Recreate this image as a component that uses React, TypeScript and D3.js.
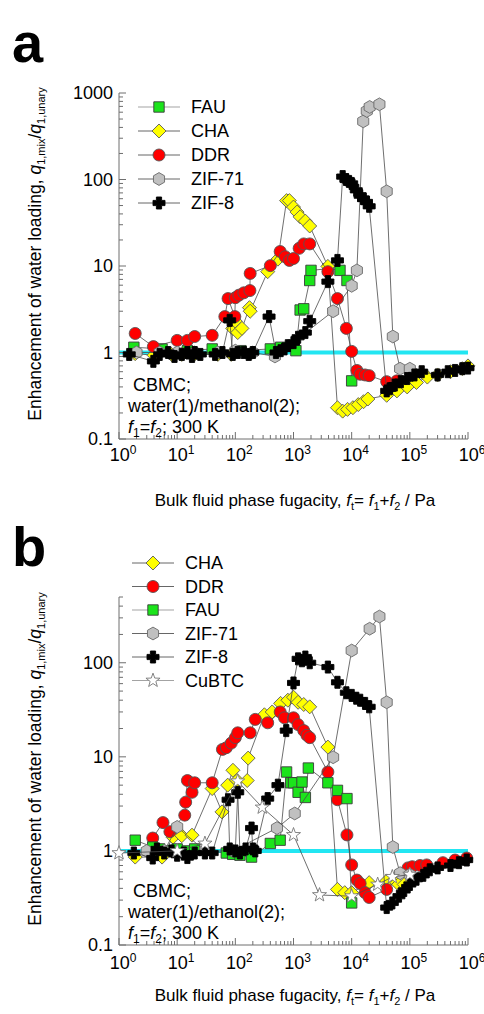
import * as d3 from 'd3'

type Pt = [number, number]

// ---- panel a: water(1)/methanol(2), CBMC, f1=f2, 300 K ----
const aFAU: Pt[] = [[1.8, 1.15], [5.5, 1.1], [15, 1.05], [40, 1.1], [125, 1.05], [400, 1.1], [600, 1.15], [1100, 1.05], [1300, 3.1], [1500, 3.2], [1900, 6.8], [2000, 8.9], [3900, 9.3], [6300, 8.9], [8300, 6.8], [10000, 0.47]]
const aCHA: Pt[] = [[1.9, 0.97], [4, 0.93], [8, 0.95], [12, 0.95], [20, 0.96], [50, 0.95], [85, 0.95], [90, 1.9], [100, 2.3], [110, 1.7], [130, 1.9], [175, 3.3], [180, 3.0], [360, 8.6], [540, 12], [760, 57], [850, 57], [1000, 48], [1150, 42], [1300, 37], [1600, 33], [1900, 29], [3900, 9.9], [5700, 0.23], [7000, 0.21], [8500, 0.22], [10500, 0.23], [13000, 0.25], [16000, 0.27], [19000, 0.29], [40000, 0.32], [60000, 0.36], [90000, 0.4], [130000, 0.45], [200000, 0.52], [300000, 0.55], [500000, 0.6], [800000, 0.65], [1000000, 0.7]]
const aDDR: Pt[] = [[1.9, 1.66], [3.9, 1.17], [10, 1.38], [15, 1.38], [20, 1.53], [40, 1.58], [66, 2.6], [75, 4.2], [98, 2.6], [100, 4.3], [115, 4.6], [140, 4.9], [178, 5.2], [180, 8.2], [400, 10.1], [590, 14.7], [720, 12.8], [850, 11.6], [1000, 12.2], [1250, 16], [1500, 18], [1900, 18], [3900, 8.6], [5700, 4.2], [8100, 1.9], [10000, 1.03], [12300, 0.62], [14000, 0.56], [17000, 0.55], [20000, 0.54], [40000, 0.46], [60000, 0.47]]
const aZIF71: Pt[] = [[2, 1.0], [5, 1.0], [10, 1.0], [20, 1.0], [50, 1.0], [100, 1.05], [200, 1.0], [480, 0.9], [4800, 3.0], [10000, 5.9], [12300, 8.9], [15800, 470], [18200, 620], [20400, 690], [30000, 740], [40000, 73], [51000, 1.53], [68000, 0.65], [100000, 0.65]]
const aZIF8: Pt[] = [[1.5, 0.95], [3.9, 0.79], [5, 0.95], [7, 1.0], [9, 0.9], [12, 0.95], [15, 1.0], [18, 0.9], [20, 1.0], [25, 0.95], [45, 0.95], [60, 1.0], [80, 2.35], [90, 0.95], [110, 1.0], [140, 1.0], [170, 0.95], [200, 1.0], [380, 2.6], [500, 1.0], [600, 1.05], [700, 1.1], [800, 1.2], [1000, 1.3], [1200, 1.5], [1600, 1.7], [1900, 2.3], [3900, 6.6], [5700, 11.6], [7000, 108], [8000, 100], [9000, 95], [10000, 90], [12000, 75], [14000, 65], [16000, 60], [18000, 55], [20000, 49], [40000, 0.36], [45000, 0.38], [55000, 0.42], [70000, 0.46], [90000, 0.5], [120000, 0.55], [160000, 0.6], [300000, 0.55], [450000, 0.6], [600000, 0.62], [800000, 0.65], [1000000, 0.66]]

// ---- panel b: water(1)/ethanol(2) ----
const bCHA: Pt[] = [[1.9, 0.86], [5.5, 0.86], [8.5, 1.4], [12, 1.45], [18, 1.47], [40, 4.6], [59, 2.6], [74, 5.0], [91, 7.2], [107, 5.6], [160, 5.6], [166, 9.7], [316, 28], [430, 30], [600, 37], [800, 40], [1000, 43], [1200, 38], [1500, 36], [1900, 34], [3900, 12.7], [5700, 0.39], [7600, 0.36], [10000, 0.36], [20000, 0.46], [40000, 0.48], [60000, 0.46], [80000, 0.44]]
const bDDR: Pt[] = [[3.8, 1.37], [5.7, 2.0], [7.5, 1.6], [13.5, 2.4], [14, 3.3], [15, 5.6], [18, 4.2], [20, 5.3], [40, 5.3], [60, 12], [70, 12.5], [85, 14], [100, 16], [110, 18], [180, 18], [220, 25], [360, 23], [590, 30], [700, 26], [1000, 26], [1200, 22], [1500, 19], [1700, 17], [1900, 16], [3900, 6.9], [5700, 3.5], [8300, 1.48], [10000, 0.71], [12300, 0.49], [14000, 0.45], [17000, 0.36], [20000, 0.32], [40000, 0.39], [93000, 0.66], [110000, 0.68], [150000, 0.7], [195000, 0.71], [370000, 0.75], [600000, 0.8], [950000, 0.84]]
const bFAU: Pt[] = [[1.9, 1.3], [3.8, 1.1], [5, 1.05], [8, 1.0], [10, 1.05], [15, 1.0], [20, 1.05], [70, 0.95], [90, 0.92], [120, 0.9], [190, 0.86], [400, 1.2], [590, 1.3], [760, 6.9], [900, 5.3], [1000, 5.3], [1200, 4.2], [1400, 5.4], [1600, 3.7], [1800, 7.6], [3900, 5.3], [5700, 4.4], [8300, 3.6], [10000, 0.28]]
const bZIF71: Pt[] = [[3, 1.0], [6, 1.0], [10, 1.8], [30, 1.0], [90, 1.0], [520, 1.75], [1050, 2.5], [4800, 9.9], [10000, 135], [20400, 230], [30000, 310], [40000, 38], [51000, 1.1], [68000, 0.58], [100000, 0.56]]
const bZIF8: Pt[] = [[1.8, 0.95], [3.8, 0.84], [4.5, 1.05], [6, 0.95], [8, 1.0], [10, 0.9], [13, 0.95], [15, 0.85], [20, 0.95], [30, 0.95], [40, 0.95], [75, 3.5], [80, 1.05], [100, 1.0], [110, 4.2], [120, 0.95], [150, 1.05], [190, 1.75], [200, 1.05], [220, 1.0], [360, 3.6], [540, 5.0], [750, 19], [1000, 61], [1200, 110], [1400, 105], [1600, 115], [1900, 100], [3900, 90], [5700, 62], [8100, 48], [10000, 45], [12000, 42], [14000, 40], [17000, 37], [20000, 34], [40000, 0.25], [50000, 0.28], [65000, 0.33], [80000, 0.38], [100000, 0.44], [130000, 0.5], [170000, 0.55], [220000, 0.63], [300000, 0.66], [500000, 0.7], [700000, 0.75], [950000, 0.8]]
const bCuBTC: Pt[] = [[1, 0.95], [10, 1.0], [30, 1.2], [110, 5.5], [290, 2.9], [1000, 1.48], [2800, 0.34], [10000, 0.33], [28000, 0.44], [50000, 0.53], [100000, 0.56]]

const xTickExps = [0, 1, 2, 3, 4, 5, 6]
const aYTicks = [0.1, 1, 10, 100, 1000]
const bYTicks = [0.1, 1, 10, 100]

const FONT = 'Liberation Sans, Arial, sans-serif'

// marker shapes, centred at 0,0
const shapes: Record<string, string> = {
  square: 'M-5.2,-5.2h10.4v10.4h-10.4Z',
  diamond: 'M0,-7L7,0L0,7L-7,0Z',
  circle: d3.symbol(d3.symbolCircle, Math.PI * 36)() as string,
  hexagon: d3.range(6).map(i => {
    const a = (Math.PI / 3) * i - Math.PI / 2
    return (i ? 'L' : 'M') + (6.4 * Math.cos(a)).toFixed(2) + ',' + (6.4 * Math.sin(a)).toFixed(2)
  }).join('') + 'Z',
  cross: 'M-2.6,-6h5.2v3.4h3.4v5.2h-3.4v3.4h-5.2v-3.4h-3.4v-5.2h3.4Z',
  star: d3.range(10).map(i => {
    const a = (Math.PI / 5) * i - Math.PI / 2
    const r = i % 2 ? 3 : 7.4
    return (i ? 'L' : 'M') + (r * Math.cos(a)).toFixed(2) + ',' + (r * Math.sin(a)).toFixed(2)
  }).join('') + 'Z'
}

const styles: Record<string, { shape: string, fill: string, stroke: string, legLine: string }> = {
  FAU: { shape: 'square', fill: '#1be41b', stroke: '#3a3a3a', legLine: '#999' },
  CHA: { shape: 'diamond', fill: '#ffff00', stroke: '#5a5a5a', legLine: '#555' },
  DDR: { shape: 'circle', fill: '#ff0000', stroke: '#555', legLine: '#555' },
  'ZIF-71': { shape: 'hexagon', fill: '#c0c0c0', stroke: '#6a6a6a', legLine: '#555' },
  'ZIF-8': { shape: 'cross', fill: '#000', stroke: '#000', legLine: '#555' },
  CuBTC: { shape: 'star', fill: '#fff', stroke: '#777', legLine: '#999' }
}

type Series = { name: string, data: Pt[] }

const panelA: Series[] = [
  { name: 'FAU', data: aFAU },
  { name: 'CHA', data: aCHA },
  { name: 'DDR', data: aDDR },
  { name: 'ZIF-71', data: aZIF71 },
  { name: 'ZIF-8', data: aZIF8 }
]
const panelB: Series[] = [
  { name: 'CHA', data: bCHA },
  { name: 'DDR', data: bDDR },
  { name: 'FAU', data: bFAU },
  { name: 'ZIF-71', data: bZIF71 },
  { name: 'ZIF-8', data: bZIF8 },
  { name: 'CuBTC', data: bCuBTC }
]

function Panel({ letter, series, yMax, yTicks, top, bottom, legX, legY, legStep, mixture, labelDy, titleDy, letterY }: {
  letter: string, series: Series[], yMax: number, yTicks: number[], top: number, bottom: number,
  legX: number, legY: number, legStep: number, mixture: string, labelDy: number, titleDy: number, letterY: number
}) {
  const left = 119, right = 468
  const x = d3.scaleLog().domain([1, 1e6]).range([left, right])
  const y = d3.scaleLog().domain([0.1, yMax]).range([bottom, top])
  const line = d3.line<Pt>().x(d => x(d[0])).y(d => y(d[1]))

  // minor ticks
  const yMinor: number[] = []
  for (let e = -1; e < 3; e++) for (let m = 2; m <= 9; m++) {
    const v = m * Math.pow(10, e)
    if (v <= yMax) yMinor.push(v)
  }
  const xMinor: number[] = []
  for (let e = 0; e < 6; e++) for (let m = 2; m <= 9; m++) xMinor.push(m * Math.pow(10, e))

  const axisCol = '#6e6e6e'
  const midY = (top + bottom) / 2

  return (
    <g fontFamily={FONT}>
      <text x={12} y={letterY} fontSize={56} fontWeight="bold">{letter}</text>

      {/* y title */}
      <text transform={`translate(41,${midY - 12}) rotate(-90)`} textAnchor="middle" fontSize={17.5}>
        Enhancement of water loading, <tspan fontStyle="italic">q</tspan>
        <tspan fontSize={11} dy={4}>1,mix</tspan>
        <tspan dy={-4}>/</tspan><tspan fontStyle="italic">q</tspan>
        <tspan fontSize={11} dy={4}>1,unary</tspan>
      </text>

      {/* unity line */}
      <line x1={left} x2={right} y1={y(1)} y2={y(1)} stroke="#22e6f2" strokeWidth={4} />

      {/* axes */}
      <line x1={left} x2={left} y1={top} y2={bottom} stroke={axisCol} strokeWidth={1} />
      <line x1={left} x2={right} y1={bottom} y2={bottom} stroke={axisCol} strokeWidth={1} />
      {yTicks.map(t => (
        <g key={'yt' + t}>
          <line x1={left} x2={left + 7} y1={y(t)} y2={y(t)} stroke={axisCol} />
          <text x={left - 6} y={y(t)} dy="0.36em" textAnchor="end" fontSize={18}>{t}</text>
        </g>
      ))}
      {yMinor.map(t => (
        <line key={'ym' + t} x1={left} x2={left + 4} y1={y(t)} y2={y(t)} stroke={axisCol} />
      ))}
      {xTickExps.map(e => (
        <g key={'xt' + e}>
          <line x1={x(Math.pow(10, e))} x2={x(Math.pow(10, e))} y1={bottom} y2={bottom - 7} stroke={axisCol} />
          <text x={x(Math.pow(10, e)) + 4} y={bottom + labelDy} textAnchor="middle" fontSize={18}>
            10<tspan fontSize={12} dy={-7}>{e}</tspan>
          </text>
        </g>
      ))}
      {xMinor.map(t => (
        <line key={'xm' + t} x1={x(t)} x2={x(t)} y1={bottom} y2={bottom - 4} stroke={axisCol} />
      ))}

      {/* x title */}
      <text x={295} y={bottom + titleDy} textAnchor="middle" fontSize={17}>
        Bulk fluid phase fugacity, <tspan fontStyle="italic">f</tspan>
        <tspan fontSize={11} dy={4}>t</tspan>
        <tspan dy={-4}>= </tspan><tspan fontStyle="italic">f</tspan>
        <tspan fontSize={11} dy={4}>1</tspan>
        <tspan dy={-4}>+</tspan><tspan fontStyle="italic">f</tspan>
        <tspan fontSize={11} dy={4}>2</tspan>
        <tspan dy={-4}> / Pa</tspan>
      </text>

      {/* series */}
      {series.map(s => {
        const st = styles[s.name]
        return (
          <g key={s.name}>
            <path d={line(s.data) as string} fill="none" stroke="#4a4a4a" strokeWidth={0.8} />
            {s.data.map((d, i) => (
              <path key={i} d={shapes[st.shape]} transform={`translate(${x(d[0])},${y(d[1])})`}
                fill={st.fill} stroke={st.stroke} strokeWidth={0.9} />
            ))}
          </g>
        )
      })}

      {/* legend */}
      {series.map((s, i) => {
        const st = styles[s.name]
        const ly = legY + i * legStep
        return (
          <g key={'lg' + s.name}>
            <line x1={legX} x2={legX + 42} y1={ly} y2={ly} stroke={st.legLine} strokeWidth={0.9} />
            <path d={shapes[st.shape]} transform={`translate(${legX + 21},${ly})`} fill={st.fill} stroke={st.stroke} strokeWidth={0.9} />
            <text x={legX + 53} y={ly} dy="0.36em" fontSize={18}>{s.name}</text>
          </g>
        )
      })}

      {/* annotation */}
      <text x={133} y={bottom - 48} fontSize={18}>CBMC;</text>
      <text x={128} y={bottom - 27} fontSize={18}>{mixture}</text>
      <text x={128} y={bottom - 6} fontSize={18}>
        <tspan fontStyle="italic">f</tspan><tspan fontSize={12} dy={4}>1</tspan>
        <tspan dy={-4}>=</tspan><tspan fontStyle="italic">f</tspan><tspan fontSize={12} dy={4}>2</tspan>
        <tspan dy={-4}>; 300 K</tspan>
      </text>
    </g>
  )
}

export default function App() {
  return (
    <svg width={484} height={1014} style={{ position: 'absolute', left: 0, top: 0, background: '#fff' }}>
      <Panel letter="a" series={panelA} yMax={1000} yTicks={aYTicks} top={93} bottom={439}
        legX={138} legY={107} legStep={24} mixture="water(1)/methanol(2);" labelDy={22} titleDy={67} letterY={62} />
      <Panel letter="b" series={panelB} yMax={500} yTicks={bYTicks} top={597} bottom={945}
        legX={132} legY={563} legStep={23.5} mixture="water(1)/ethanol(2);" labelDy={24} titleDy={56} letterY={566} />
    </svg>
  )
}
